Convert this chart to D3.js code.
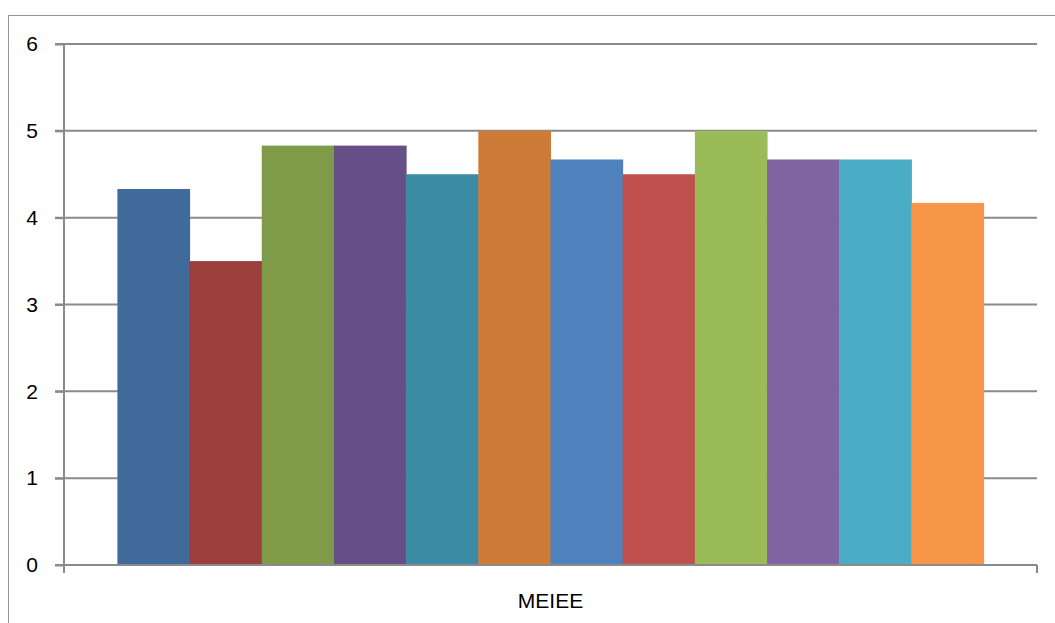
<!DOCTYPE html>
<html>
<head>
<meta charset="utf-8">
<script src="https://cdn.jsdelivr.net/npm/d3@7"></script>
<style>
html,body{margin:0;padding:0;background:#fff;}
svg{display:block;}
text{font-family:"Liberation Sans","DejaVu Sans",sans-serif;}
</style>
</head>
<body>
<svg id="chart" width="1055" height="623"></svg>
<script>
const category = "MEIEE";
const seriesNames = ["S1","S2","S3","S4","S5","S6","S7","S8","S9","S10","S11","S12"];
const values = [4.33, 3.5, 4.83, 4.83, 4.5, 5, 4.67, 4.5, 5, 4.67, 4.67, 4.17];
const colors = ["#3F6A9A","#9C3F3C","#7F9A48","#664F86","#3A8BA3","#CD7B37",
                "#4F81BD","#C0504D","#9BBB59","#8064A2","#4BACC6","#F79646"];
const yTicks = [0,1,2,3,4,5,6];

(function(){
const svg = d3.select("#chart");
const pL = 64, pR = 1037, pT = 44, pB = 565;

// outer chart border
svg.append("rect").attr("x",8.5).attr("y",15.5).attr("width",1100).attr("height",700)
  .attr("fill","none").attr("stroke","#959595").attr("stroke-width",1);

const y = d3.scaleLinear().domain([0,6]).range([pB, pT]);
const x0 = d3.scaleBand().domain([category]).range([pL, pR]).paddingInner(0).paddingOuter(0);
const groupW = x0.bandwidth();
const gapRatio = 1.48;
const barW = groupW / (seriesNames.length + gapRatio);
const x1 = d3.scaleBand().domain(seriesNames)
  .range([x0(category) + barW*gapRatio/2, x0(category) + groupW - barW*gapRatio/2])
  .padding(0);

// gridlines
svg.append("g").selectAll("line").data(yTicks.filter(d=>d>0)).join("line")
  .attr("x1",55).attr("x2",pR)
  .attr("y1",d=>y(d)).attr("y2",d=>y(d))
  .attr("stroke","#8a8a8a").attr("stroke-width",2);

// bars
svg.append("g").selectAll("rect").data(values).join("rect")
  .attr("x",(d,i)=>x1(seriesNames[i]))
  .attr("width",x1.bandwidth()+0.5)
  .attr("y",d=>y(d))
  .attr("height",d=>y(0)-y(d))
  .attr("fill",(d,i)=>colors[i]);

// y axis
const yAxis = d3.axisLeft(y).tickValues(yTicks).tickSize(9).tickPadding(17).tickFormat(d3.format("d"));
const gy = svg.append("g").attr("transform",`translate(${pL},0)`).call(yAxis);
gy.select(".domain").remove();
gy.selectAll(".tick line").attr("stroke","#8a8a8a").attr("stroke-width",2);
gy.selectAll(".tick text").attr("fill","#000").attr("font-size","21px")
  .attr("font-family",'"Liberation Sans","DejaVu Sans",sans-serif');
svg.append("line").attr("x1",pL).attr("x2",pL).attr("y1",pT).attr("y2",pB+8)
  .attr("stroke","#8a8a8a").attr("stroke-width",2);

// x axis
const xAxis = d3.axisBottom(x0).tickSize(0).tickPadding(28);
const gx = svg.append("g").attr("transform",`translate(0,${pB})`).call(xAxis);
gx.select(".domain").remove();
gx.selectAll(".tick text").attr("fill","#000").attr("font-size","21px")
  .attr("font-family",'"Liberation Sans","DejaVu Sans",sans-serif');
svg.append("line").attr("x1",pL-9).attr("x2",pR).attr("y1",pB).attr("y2",pB)
  .attr("stroke","#8a8a8a").attr("stroke-width",2);
svg.append("g").selectAll("line").data([pL, pR]).join("line")
  .attr("x1",d=>d).attr("x2",d=>d).attr("y1",pB).attr("y2",pB+8)
  .attr("stroke","#8a8a8a").attr("stroke-width",2);
})();
</script>
</body>
</html>
